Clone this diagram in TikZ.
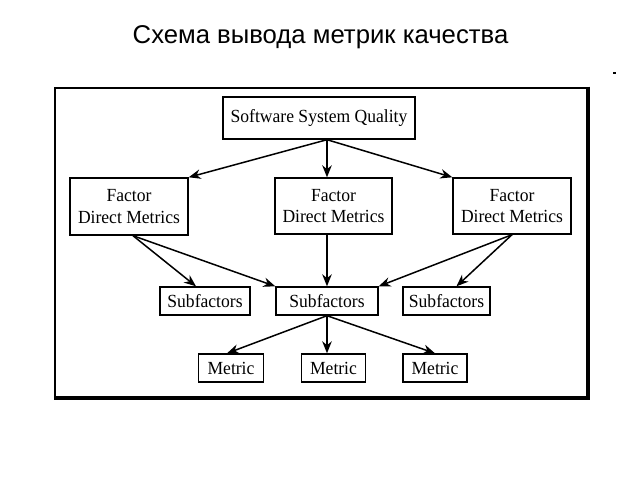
\documentclass[tikz,border=0pt]{standalone}
\usepackage{fontspec}
\setmainfont{Liberation Serif}[FakeStretch=0.95]
\newfontfamily\titlefont{Liberation Sans}
\usetikzlibrary{arrows.meta,calc}
\begin{document}
\begin{tikzpicture}[x=1pt,y=-1pt,
  boxst/.style={draw=black,line width=1.4pt,inner sep=0pt,align=center,
    font=\fontsize{18.5}{21.5}\selectfont,text=black},
  arr/.style={line width=1.5pt,-{Stealth[length=12pt,width=9.5pt]}},
  frameline/.style={line width=1.7pt}]
\useasboundingbox (0,0) rectangle (640,480);
\node[font=\titlefont\fontsize{25.7}{28}\selectfont,anchor=base] (title) at (320.5,43) {Схема вывода метрик качества};
% outer frame
\draw[frameline] (55,398) -- (55,88) -- (588,88);
\draw[line width=3.6pt] (588,86.5) -- (588,398) -- (53.5,398);
\fill (613,72) rectangle (616,74);
% nodes
\node[boxst,minimum width=192pt,minimum height=42pt] (ssq) at (319,118) {Software System Quality};
\node[boxst,minimum width=118pt,minimum height=57pt] (fl) at (129,206.5) {Factor\\Direct Metrics};
\node[boxst,minimum width=117pt,minimum height=56pt] (fm) at (333.5,206) {Factor\\Direct Metrics};
\node[boxst,minimum width=118pt,minimum height=56pt] (fr) at (512,206) {Factor\\Direct Metrics};
\node[boxst,minimum width=90pt,minimum height=28pt] (sl) at (205,301) {Subfactors};
\node[boxst,minimum width=102pt,minimum height=28pt] (sm) at (327,301) {Subfactors};
\node[boxst,minimum width=87pt,minimum height=28pt] (sr) at (446.5,301) {Subfactors};
\node[boxst,minimum width=65pt,minimum height=28pt] (ml) at (231,368) {Metric};
\node[boxst,minimum width=64pt,minimum height=28pt] (mm) at (333.5,368) {Metric};
\node[boxst,minimum width=64pt,minimum height=28pt] (mr) at (435,368) {Metric};
% connectors
\draw[arr] (ssq.south -| sm.north) -- (fl.north east);
\draw[arr] (ssq.south -| sm.north) -- (fm.north -| sm.north);
\draw[arr] (ssq.south -| sm.north) -- (fr.north west);
\draw[arr] ([xshift=4pt]fl.south) -- ([xshift=-9pt]sl.north);
\draw[arr] ([xshift=4pt]fl.south) -- (sm.north west);
\draw[arr] (fm.south -| sm.north) -- (sm.north);
\draw[arr] (fr.south) -- (sm.north east);
\draw[arr] (fr.south) -- ([xshift=10pt]sr.north);
\draw[arr] (sm.south) -- ([xshift=-4pt]ml.north);
\draw[arr] (sm.south) -- (mm.north -| sm.south);
\draw[arr] (sm.south) -- (mr.north);
\end{tikzpicture}
\end{document}
